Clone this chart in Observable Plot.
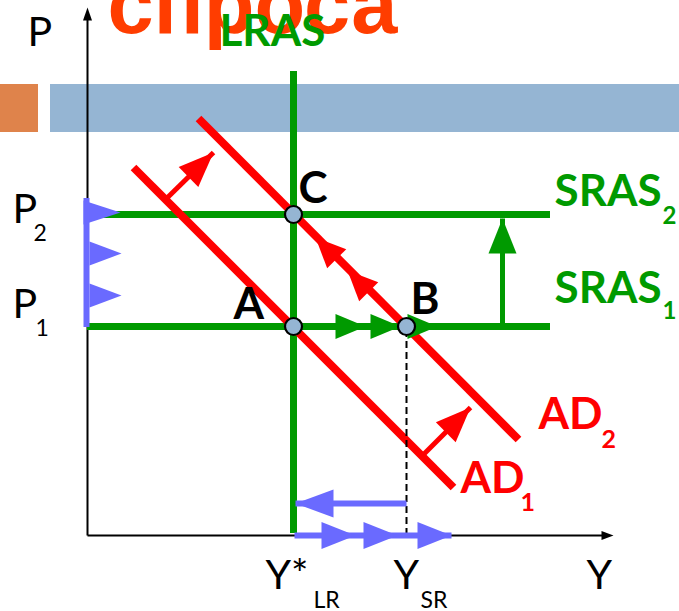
<!DOCTYPE html>
<html><head><meta charset="utf-8">
<script src="https://cdn.jsdelivr.net/npm/d3@7"></script>
<script src="https://cdn.jsdelivr.net/npm/@observablehq/plot@0.6"></script>
<style>body{margin:0;background:#fff;} svg{display:block;}</style>
</head><body><div id="chart"></div>
<script>
// ---- data (abstract units; origin at the axes' corner) ----
const outputLevels = [{name: "Y*LR", x: 206}, {name: "YSR", x: 319}];
const priceLevels = [{name: "P1", p: 209}, {name: "P2", p: 321}];
const srasCurves = [{name: "SRAS1", p: 209, x1: 0, x2: 463}, {name: "SRAS2", p: 321, x1: 0, x2: 463}];
const lrasCurve = [{name: "LRAS", x: 206, p1: 2, p2: 464}];
const adCurves = [
  {name: "AD1", x1: 46, p1: 368, x2: 366, p2: 48},
  {name: "AD2", x1: 111, p1: 417, x2: 431, p2: 96}
];
const equilibria = [{name: "A", x: 206, p: 209}, {name: "B", x: 319, p: 209}, {name: "C", x: 206, p: 321}];
const axisEnds = [{axis: "P", x: 0, p: 528}, {axis: "Y", x: 526, p: 0}];
const headerWord = [{text: "спроса", x: 20, p: 503}];
const banners = [
  {x1: -37, x2: 592, p1: 403, p2: 451, color: "#95b5d3"},
  {x1: -87, x2: -49, p1: 403, p2: 451, color: "#df834b"}
];
// arrows: tail -> tip
const adShiftArrows = [{x1: 78, p1: 336, x2: 126, p2: 383}, {x1: 335, p1: 80, x2: 383, p2: 128}];
const srasShiftArrow = [{x1: 415, p1: 209, x2: 415, p2: 317}];
const outputBackArrow = [{x1: 319, p1: 32, x2: 208, p2: 32}];
const outputForwardTicks = [268, 310, 364];   // tips of the triangles on the Y axis
const alongSras1Ticks = [278, 313, 350];     // tips of the triangles from A to B
const alongAd2Ticks = [{x: 228, p: 298}, {x: 260, p: 265}];
const priceRiseTicks = [{x: 33, p: 323, base: -4}, {x: 34, p: 282, base: 2}, {x: 34, p: 240, base: 2}];
const priceRiseBar = [{x: -1, p1: 208, p2: 337}];

const labelsRegular = [
  {t: "P", x: -60, p: 490, s: 41}, {t: "P", x: -75, p: 313, s: 41}, {t: "2", x: -54, p: 295, s: 23},
  {t: "P", x: -75, p: 218, s: 41}, {t: "1", x: -52, p: 200, s: 23},
  {t: "Y*", x: 178, p: -53, s: 41}, {t: "LR", x: 226, p: -72, s: 23},
  {t: "Y", x: 306, p: -53, s: 41}, {t: "SR", x: 333, p: -72, s: 23},
  {t: "Y", x: 499, p: -53, s: 41}
];
const labelsPoints = [{t: "A", x: 146, p: 217}, {t: "B", x: 323, p: 222}, {t: "C", x: 211, p: 333}];
const labelsGreen = [
  {t: "LRAS", x: 132, p: 490, s: 44}, {t: "SRAS", x: 467, p: 330, s: 44}, {t: "2", x: 575, p: 312, s: 24},
  {t: "SRAS", x: 467, p: 233, s: 44}, {t: "1", x: 575, p: 217, s: 24}
];
const labelsRed = [
  {t: "AD", x: 451, p: 107, s: 44}, {t: "2", x: 514, p: 88, s: 25},
  {t: "AD", x: 373, p: 43, s: 44}, {t: "1", x: 433, p: 25, s: 25}
];

// ---- styles ----
const GREEN = "#009a00", RED = "#ff0000", BLUE = "#6a6aff";

// triangle helper: tip point, direction (unit), length, half width
function tri(id, tx, tp, dx, dp, len, half) {
  const n = Math.hypot(dx, dp); dx /= n; dp /= n;
  const bx = tx - dx * len, bp = tp - dp * len;
  const nx = -dp, np = dx;
  return [
    {id, x: tx, p: tp},
    {id, x: bx + nx * half, p: bp + np * half},
    {id, x: bx - nx * half, p: bp - np * half}
  ];
}
const redHeads = [
  ...adShiftArrows.flatMap((a, i) => tri("s" + i, a.x2, a.p2, a.x2 - a.x1, a.p2 - a.p1, 35, 14)),
  ...alongAd2Ticks.flatMap((d, i) => tri("d" + i, d.x, d.p, -1, 1, 30, 13.5))
];
const greenHeads = [
  ...srasShiftArrow.flatMap((a, i) => tri("g" + i, a.x2, a.p2, 0, 1, 35, 14)),
  ...alongSras1Ticks.flatMap((x, i) => tri("h" + i, x, priceLevels[0].p, 1, 0, 30, 12.5))
];
const blueHeads = [
  ...outputBackArrow.flatMap((a, i) => tri("b" + i, a.x2, a.p2, -1, 0, 38, 14)),
  ...outputForwardTicks.flatMap((x, i) => tri("f" + i, x, 0, 1, 0, 34, 13.5)),
  ...priceRiseTicks.flatMap((d, i) => tri("r" + i, d.x, d.p, 1, 0, d.x - d.base, 12))
];
const blackHeads = [
  ...tri("ya", axisEnds[0].x, axisEnds[0].p, 0, 1, 13, 4.5),
  ...tri("xa", axisEnds[1].x, axisEnds[1].p, 1, 0, 12, 4.5)
];

const txt = (data, o) => Plot.text(data, {x: "x", y: "p", text: "t", textAnchor: "start", lineAnchor: "bottom", ...o});

const chart = Plot.plot({
  width: 679, height: 611,
  margin: 0,
  x: {domain: [-87, 592], axis: null},
  y: {domain: [-76, 535], axis: null},
  style: {background: "#fff", overflow: "hidden"},
  marks: [
    Plot.text(headerWord, {x: "x", y: "p", text: "text", textAnchor: "start", lineAnchor: "bottom",
      fill: "#ff3d00", fontSize: 83, fontWeight: "bold", fontFamily: "Liberation Sans, Arial, sans-serif"}),
    Plot.rect(banners, {x1: "x1", x2: "x2", y1: "p1", y2: "p2", fill: "color"}),
    // axes
    Plot.link([{x1: 0, p1: 0, x2: 0, p2: 520}, {x1: 0, p1: 0, x2: 516, p2: 0}],
      {x1: "x1", y1: "p1", x2: "x2", y2: "p2", stroke: "black", strokeWidth: 2}),
    Plot.line(blackHeads, {x: "x", y: "p", z: "id", fill: "black", stroke: "none"}),
    // curves
    Plot.ruleY(srasCurves, {y: "p", x1: "x1", x2: "x2", stroke: GREEN, strokeWidth: 7}),
    Plot.ruleX(lrasCurve, {x: "x", y1: "p1", y2: "p2", stroke: GREEN, strokeWidth: 7}),
    Plot.link(adCurves, {x1: "x1", y1: "p1", x2: "x2", y2: "p2", stroke: RED, strokeWidth: 8}),
    Plot.ruleX([outputLevels[1]], {x: "x", y1: 0, y2: priceLevels[0].p, stroke: "black", strokeWidth: 2, strokeDasharray: "7,4"}),
    // blue price rise bar
    Plot.ruleX(priceRiseBar, {x: "x", y1: "p1", y2: "p2", stroke: BLUE, strokeWidth: 6}),
    // arrow stems
    Plot.link(adShiftArrows, {x1: "x1", y1: "p1", x2: "x2", y2: "p2", stroke: RED, strokeWidth: 5}),
    Plot.link(srasShiftArrow, {x1: "x1", y1: "p1", x2: "x2", y2: "p2", stroke: GREEN, strokeWidth: 5}),
    Plot.link(outputBackArrow, {x1: "x1", y1: "p1", x2: "x2", y2: "p2", stroke: BLUE, strokeWidth: 6}),
    Plot.link([{x1: outputLevels[0].x + 1, x2: outputForwardTicks[2]}], {x1: "x1", x2: "x2", y1: 0, y2: 0, stroke: BLUE, strokeWidth: 6}),
    // heads
    Plot.line(greenHeads, {x: "x", y: "p", z: "id", fill: GREEN, stroke: "none"}),
    Plot.line(redHeads, {x: "x", y: "p", z: "id", fill: RED, stroke: "none"}),
    Plot.line(blueHeads, {x: "x", y: "p", z: "id", fill: BLUE, stroke: "none"}),
    // equilibria
    Plot.dot(equilibria, {x: "x", y: "p", r: 8.5, fill: "#95b5d3", stroke: "black", strokeWidth: 2.2}),
    // labels
    txt(labelsRegular, {fontSize: "s", fill: "black", fontFamily: "Lato, sans-serif"}),
    txt(labelsPoints, {fontSize: 44, fontWeight: "bold", fill: "black", fontFamily: "Lato, sans-serif"}),
    txt(labelsGreen, {fontSize: "s", fontWeight: "bold", fill: GREEN, fontFamily: "Lato, sans-serif"}),
    txt(labelsRed, {fontSize: "s", fontWeight: "bold", fill: RED, fontFamily: "Lato, sans-serif"})
  ]
});
document.getElementById("chart").append(chart);
</script>
</body></html>
